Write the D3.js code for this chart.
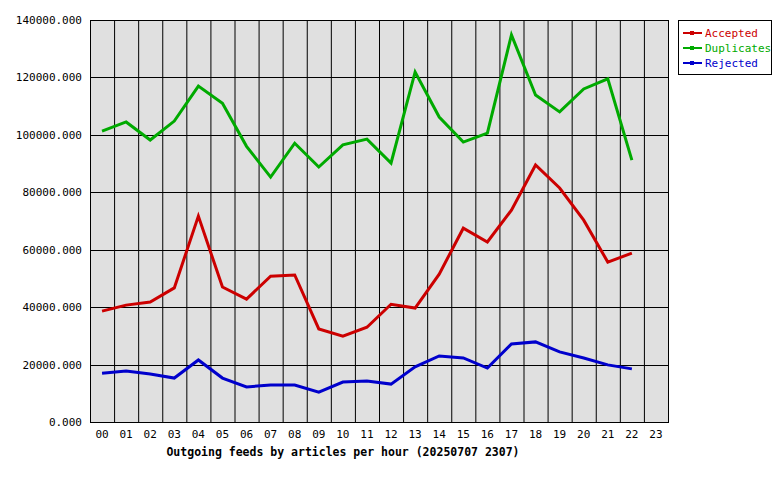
<!DOCTYPE html><html><head><script src="https://cdn.jsdelivr.net/npm/d3@7"></script>
<style>body{margin:0;background:#fff}text{font-family:"DejaVu Sans Mono",monospace;font-size:11px}</style></head><body>
<svg id="c" width="780" height="480"></svg>
<script>
const hours=d3.range(24).map(h=>String(h).padStart(2,"0"));
const accepted=[38600,40700,41800,46700,71700,47000,42800,50800,51200,32400,29900,33000,41000,39700,51500,67500,62700,73800,89500,81500,70300,55700,58800];
const duplicates=[101300,104500,98200,104800,117000,111000,96000,85300,97100,88800,96500,98500,90200,121900,106200,97500,100600,134800,113900,108000,116000,119500,91200];
const rejected=[17000,17800,16700,15300,21600,15300,12200,12900,12900,10400,13900,14300,13200,19200,23000,22300,18800,27200,27900,24400,22300,19900,18500];
const yTicks=[0,20000,40000,60000,80000,100000,120000,140000];
const series=[{name:"Accepted",color:"#cc0000",v:accepted},{name:"Duplicates",color:"#00aa00",v:duplicates},{name:"Rejected",color:"#0000cc",v:rejected}];
const svg=d3.select("#c");
const L=90,R=668,T=20,B=422;
const x=d3.scaleBand().domain(hours).range([L,R]);
const y=d3.scaleLinear().domain([0,140000]).range([B,T]);
svg.append("rect").attr("x",L).attr("y",T).attr("width",R-L).attr("height",B-T).attr("fill","#e0e0e0");
const g=svg.append("g").attr("stroke","#000").attr("stroke-width",1);
hours.forEach(h=>g.append("line").attr("x1",x(h)+.5).attr("x2",x(h)+.5).attr("y1",T).attr("y2",B));
yTicks.forEach(t=>g.append("line").attr("x1",L).attr("x2",R).attr("y1",Math.round(y(t))+.5).attr("y2",Math.round(y(t))+.5));
svg.append("rect").attr("x",L+.5).attr("y",T+.5).attr("width",R-L).attr("height",B-T).attr("fill","none").attr("stroke","#000");
yTicks.forEach(t=>svg.append("text").attr("x",L-8).attr("y",y(t)+4).attr("text-anchor","end").text(t.toFixed(3)));
hours.forEach(h=>svg.append("text").attr("x",x(h)+x.bandwidth()/2).attr("y",B+16).attr("text-anchor","middle").text(h));
svg.append("text").attr("x",343).attr("y",456).attr("text-anchor","middle").style("font-weight","bold").style("font-size","11.5px").text("Outgoing feeds by articles per hour (20250707 2307)");
const line=d3.line().x((d,i)=>x(hours[i])+x.bandwidth()/2).y(d=>y(d));
series.forEach(s=>svg.append("path").attr("d",line(s.v)).attr("fill","none").attr("stroke",s.color).attr("stroke-width",3));
const lg=svg.append("g");
lg.append("rect").attr("x",678.5).attr("y",20.5).attr("width",93).attr("height",54).attr("fill","#fff").attr("stroke","#000");
series.forEach((s,i)=>{const yy=33+i*15;
lg.append("line").attr("x1",683).attr("x2",702).attr("y1",yy).attr("y2",yy).attr("stroke",s.color).attr("stroke-width",2);
lg.append("rect").attr("x",690).attr("y",yy-2).attr("width",4).attr("height",4).attr("fill",s.color);
lg.append("text").attr("x",705).attr("y",yy+4).attr("fill",s.color).text(s.name);});
</script></body></html>
